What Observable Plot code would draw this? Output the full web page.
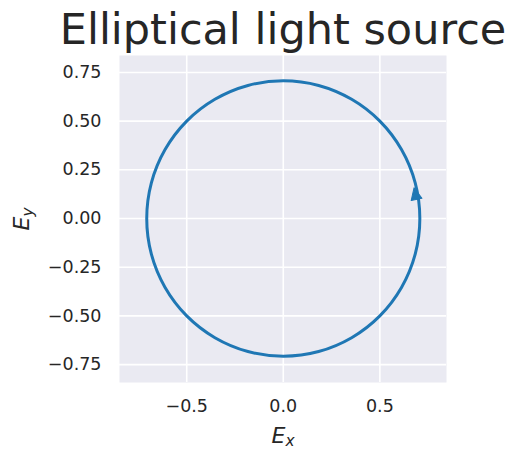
<!DOCTYPE html>
<html>
<head>
<meta charset="utf-8">
<script src="https://cdn.jsdelivr.net/npm/d3@7"></script>
<script src="https://cdn.jsdelivr.net/npm/@observablehq/plot@0.6"></script>
<style>
  html, body { margin: 0; padding: 0; background: #ffffff; }
  #chart { width: 520px; height: 460px; }
</style>
</head>
<body>
<div id="chart"></div>
<script>
// Title and axis labels
const titleText = ["Elliptical light source"];
const xLabel = ["E", "x"];
const yLabel = ["E", "y"];

// Tick values
const xTicks = [-0.5, 0.0, 0.5];
const yTicks = [-0.75, -0.5, -0.25, 0.0, 0.25, 0.5, 0.75];

// Field trace (every 15 degrees around the ellipse)
const ex = [0.707, 0.683, 0.612, 0.500, 0.354, 0.183, 0.000, -0.183, -0.354, -0.500, -0.612, -0.683,
            -0.707, -0.683, -0.612, -0.500, -0.354, -0.183, 0.000, 0.183, 0.354, 0.500, 0.612, 0.683];
const ey = [0.000, 0.183, 0.354, 0.500, 0.612, 0.683, 0.707, 0.683, 0.612, 0.500, 0.354, 0.183,
            0.000, -0.183, -0.354, -0.500, -0.612, -0.683, -0.707, -0.683, -0.612, -0.500, -0.354, -0.183];

// Direction arrow (base point and heading, degrees clockwise from up)
const arrowX = [0.690];
const arrowY = [0.098];
const arrowHeading = [-12];

const trace = ex.map((v, i) => ({Ex: v, Ey: ey[i]}));
const arrow = arrowX.map((v, i) => ({x: v, y: arrowY[i], a: arrowHeading[i]}));

const blue = "#1f77b4";
const arrowHead = {
  draw(context, l) {
    const w = 5.5;
    context.moveTo(-w, 0);
    context.lineTo(0, -l);
    context.lineTo(w, 0);
    context.closePath();
  }
};

const chart = Plot.plot({
  width: 520,
  height: 460,
  marginLeft: 119,
  marginRight: 74,
  marginTop: 55,
  marginBottom: 78,
  style: {fontFamily: "DejaVu Sans", fontSize: "17.5px", color: "#262626", background: "#ffffff"},
  x: {domain: [-0.848, 0.845], ticks: xTicks, tickFormat: d3.format(".1f"), label: xLabel.join(""), labelArrow: "none"},
  y: {domain: [-0.842, 0.837], ticks: yTicks, tickFormat: d3.format(".2f"), label: yLabel.join(""), labelArrow: "none"},
  marks: [
    Plot.frame({fill: "#EAEAF2", stroke: null}),
    Plot.gridX(xTicks, {stroke: "#ffffff", strokeOpacity: 1, strokeWidth: 1.6}),
    Plot.gridY(yTicks, {stroke: "#ffffff", strokeOpacity: 1, strokeWidth: 1.6}),
    Plot.axisX(xTicks, {tickSize: 0, tickPadding: 17, fontSize: 17.5, tickFormat: d3.format(".1f"),
      label: xLabel.join(""), labelAnchor: "center", labelOffset: 60}),
    Plot.axisY(yTicks, {tickSize: 0, tickPadding: 18, fontSize: 17.5, tickFormat: d3.format(".2f"),
      label: yLabel.join(""), labelAnchor: "center", labelOffset: 106}),
    Plot.line(trace, {x: "Ex", y: "Ey", curve: "catmull-rom-closed", stroke: blue, strokeWidth: 3}),
    Plot.vector(arrow, {x: "x", y: "y", rotate: "a", length: 12, anchor: "start", shape: arrowHead,
      stroke: blue, fill: blue, strokeWidth: 1}),
    Plot.text(titleText, {frameAnchor: "top", lineAnchor: "bottom", dy: -12, fontSize: 43, fill: "#262626"})
  ]
});

document.getElementById("chart").appendChild(chart);

// Render axis labels as italic E with subscript
function mathLabel(selector, parts) {
  const t = chart.querySelector(selector);
  if (!t) return;
  t.textContent = "";
  t.setAttribute("font-style", "italic");
  t.setAttribute("font-size", "22px");
  const ns = "http://www.w3.org/2000/svg";
  const a = document.createElementNS(ns, "tspan");
  a.textContent = parts[0];
  t.appendChild(a);
  const b = document.createElementNS(ns, "tspan");
  b.textContent = parts[1];
  b.setAttribute("font-size", "15.4px");
  b.setAttribute("dy", "0.25em");
  t.appendChild(b);
}
mathLabel('[aria-label="x-axis label"] text', xLabel);
mathLabel('[aria-label="y-axis label"] text', yLabel);
</script>
</body>
</html>
